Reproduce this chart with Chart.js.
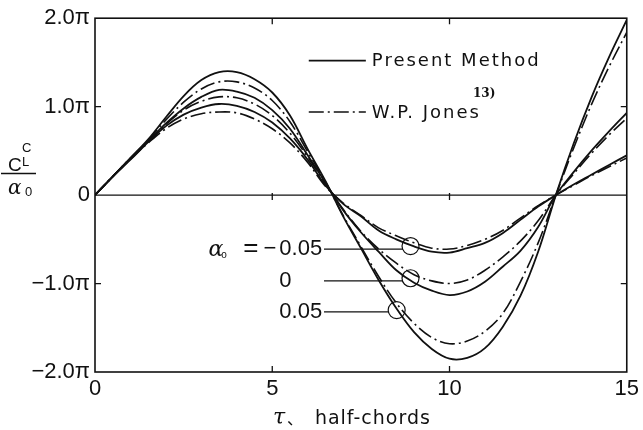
<!DOCTYPE html>
<html><head><meta charset="utf-8">
<script src="https://cdn.jsdelivr.net/npm/chart.js@4/dist/chart.umd.min.js"></script>
<style>html,body{margin:0;padding:0;background:#fff}#wrap{width:643px;height:430px}</style>
</head><body><div id="wrap"><canvas id="c" width="643" height="430"></canvas></div>
<script>
// τ in half-chords, values in units of π
const tau = [0,0.5,1,1.5,2,2.5,3,3.5,4,4.5,5,5.5,6,6.5,7,7.5,8,8.5,9,9.5,10,10.5,11,11.5,12,12.5,13,13.5,14,14.5,15];
// Present Method (solid)
const presentA005 = [0,0.21,0.42,0.63,0.88,1.12,1.30,1.39,1.39,1.31,1.16,0.90,0.52,0.16,-0.24,-0.60,-0.96,-1.28,-1.55,-1.74,-1.85,-1.84,-1.73,-1.49,-1.14,-0.64,0.00,0.58,1.10,1.56,1.98];
const presentA0   = [0,0.21,0.41,0.61,0.81,0.98,1.11,1.19,1.17,1.10,0.96,0.75,0.45,0.14,-0.17,-0.42,-0.64,-0.85,-0.99,-1.08,-1.13,-1.09,-0.98,-0.81,-0.63,-0.36,0.00,0.26,0.50,0.72,0.93];
const presentAm005= [0,0.21,0.40,0.60,0.78,0.91,0.99,1.03,1.01,0.94,0.82,0.64,0.40,0.11,-0.10,-0.24,-0.40,-0.50,-0.58,-0.64,-0.65,-0.60,-0.54,-0.43,-0.28,-0.13,0.00,0.12,0.23,0.34,0.45];
// W.P. Jones (dash-dot)
const jonesA005 = [0,0.21,0.42,0.62,0.85,1.05,1.20,1.28,1.28,1.21,1.07,0.83,0.49,0.15,-0.23,-0.58,-0.92,-1.22,-1.45,-1.61,-1.68,-1.65,-1.54,-1.34,-0.98,-0.54,0.00,0.53,1.02,1.45,1.84];
const jonesA0   = [0,0.21,0.41,0.60,0.80,0.96,1.06,1.11,1.10,1.03,0.90,0.70,0.43,0.13,-0.16,-0.41,-0.61,-0.77,-0.90,-0.97,-1.00,-0.96,-0.85,-0.70,-0.52,-0.29,0.00,0.24,0.47,0.68,0.87];
const jonesAm005= [0,0.21,0.41,0.59,0.75,0.86,0.92,0.94,0.93,0.86,0.75,0.59,0.37,0.10,-0.09,-0.23,-0.37,-0.46,-0.54,-0.60,-0.61,-0.57,-0.50,-0.40,-0.26,-0.12,0.00,0.11,0.22,0.32,0.42];

const xTicks = [0,5,10,15];
const yTicks = [-2,-1,0,1,2];
const legendLabels = ['Present Method','W.P. Jones'];
// α0 annotations: label, circled point (τ, value), leader level
const annLabels = ['0.05','0','0.05'];
const annSign = ['−','',''];
const annTau = [8.90,8.90,8.51];
const annVal = [-0.576,-0.94,-1.30];
const annLineVal = [-0.61,-0.97,-1.32];

const toPts = arr => tau.map((t,i)=>({x:t,y:arr[i]}));
const INK = '#111';
const DD = [15,4,2,4];

function ds(arr, dashed){
  return {data:toPts(arr), borderColor:INK, borderWidth:dashed?1.6:1.8, borderDash:dashed?DD:[],
    pointRadius:0, fill:false, tension:0.35};
}

const deco = {
  id:'deco',
  beforeDatasetsDraw(chart){
    const {ctx, chartArea:a, scales:{x,y}} = chart;
    ctx.save();
    ctx.strokeStyle = INK; ctx.lineWidth = 1.3;
    const y0 = y.getPixelForValue(0);
    ctx.beginPath(); ctx.moveTo(a.left,y0); ctx.lineTo(a.right,y0); ctx.stroke();
    ctx.restore();
  },
  afterDraw(chart){
    const {ctx, chartArea:a, scales:{x,y}} = chart;
    ctx.save();
    ctx.strokeStyle = INK; ctx.fillStyle = INK;
    // box
    ctx.lineWidth = 1.6;
    ctx.strokeRect(a.left, a.top, a.right-a.left, a.bottom-a.top);
    // inward ticks
    ctx.lineWidth = 1.3;
    const L = 6;
    ctx.beginPath();
    xTicks.slice(1,-1).forEach(v=>{
      const px = x.getPixelForValue(v);
      ctx.moveTo(px,a.bottom); ctx.lineTo(px,a.bottom-L);
      ctx.moveTo(px,a.top); ctx.lineTo(px,a.top+L);
      const y0 = y.getPixelForValue(0);
      ctx.moveTo(px,y0-2); ctx.lineTo(px,y0+5);
    });
    yTicks.slice(1,-1).forEach(v=>{
      if(v===0) return;
      const py = y.getPixelForValue(v);
      ctx.moveTo(a.left,py); ctx.lineTo(a.left+L,py);
      ctx.moveTo(a.right,py); ctx.lineTo(a.right-L,py);
    });
    ctx.stroke();

    // legend
    const lx0 = x.getPixelForValue(6.03), lx1 = x.getPixelForValue(7.64);
    const ly = [y.getPixelForValue(1.52), y.getPixelForValue(0.94)];
    ctx.lineWidth = 1.6;
    [[],DD].forEach((d,i)=>{
      ctx.setLineDash(d);
      ctx.beginPath(); ctx.moveTo(lx0,ly[i]); ctx.lineTo(lx1,ly[i]); ctx.stroke();
    });
    ctx.setLineDash([]);
    ctx.font = '18px "DejaVu Sans"';
    ctx.letterSpacing = '2px';
    ctx.textBaseline = 'middle'; ctx.textAlign = 'left';
    legendLabels.forEach((t,i)=> ctx.fillText(t, lx1+6, ly[i]+1));
    const jw = ctx.measureText(legendLabels[1]).width;
    ctx.letterSpacing = '0px';
    ctx.font = 'bold 12px "DejaVu Serif"';
    ctx.fillText('13)', lx1+6+jw-8, ly[1]-18);

    // annotations
    const numX = x.getPixelForValue(5.2), leadX = x.getPixelForValue(6.46);
    ctx.font = '22px "Liberation Sans"';
    ctx.lineWidth = 1.2;
    annLabels.forEach((t,i)=>{
      const cx = x.getPixelForValue(annTau[i]), cy = y.getPixelForValue(annVal[i]);
      const ly2 = y.getPixelForValue(annLineVal[i]);
      const r = 8.5;
      ctx.textAlign='left'; ctx.textBaseline='middle';
      ctx.fillText(t, numX, ly2);
      if(annSign[i]){
        ctx.textAlign='right';
        ctx.fillText(annSign[i], numX-3, ly2);
        ctx.font = '26px "Liberation Sans"';
        ctx.fillText('=', numX-21, ly2);
        ctx.font = 'italic 22px "DejaVu Serif"';
        ctx.fillText('α', numX-56, ly2+1);
        ctx.font = '10px "Liberation Sans"';
        ctx.textAlign='left';
        ctx.fillText('o', numX-58, ly2+6);
        ctx.font = '22px "Liberation Sans"';
      }
      ctx.beginPath(); ctx.moveTo(leadX, ly2); ctx.lineTo(cx - r*0.9, ly2); ctx.stroke();
      ctx.beginPath(); ctx.arc(cx, cy, r, 0, Math.PI*2); ctx.stroke();
    });

    // y-axis title (fraction)
    ctx.textAlign='left'; ctx.textBaseline='alphabetic';
    ctx.font = '19px "Liberation Sans"';
    ctx.fillText('C', 8, 171);
    ctx.font = '13px "Liberation Sans"';
    ctx.fillText('C', 22, 152);
    ctx.fillText('L', 22, 166);
    ctx.lineWidth = 1.3;
    ctx.beginPath(); ctx.moveTo(1,173.5); ctx.lineTo(36,173.5); ctx.stroke();
    ctx.font = 'italic 20px "DejaVu Serif"';
    ctx.fillText('α', 8, 194);
    ctx.font = '13px "Liberation Sans"';
    ctx.fillText('0', 25, 196);

    // x-axis title
    const cxT = (a.left+a.right)/2;
    ctx.font = 'italic 22px "DejaVu Serif"';
    ctx.fillText('τ', cxT-88, 424);
    ctx.font = '16px "Noto Sans CJK JP"';
    ctx.fillText('、', cxT-74, 424);
    ctx.font = '19px "DejaVu Sans"';
    ctx.letterSpacing = '1px';
    ctx.fillText('half-chords', cxT-46, 424);
    ctx.restore();
  }
};

new Chart(document.getElementById('c'), {
  type:'line',
  data:{datasets:[
    ds(presentA005,false), ds(jonesA005,true),
    ds(presentA0,false), ds(jonesA0,true),
    ds(presentAm005,false), ds(jonesAm005,true)
  ]},
  options:{
    responsive:false, animation:false, devicePixelRatio:1,
    layout:{padding:{top:18,right:14,left:0,bottom:0}},
    plugins:{legend:{display:false}, tooltip:{enabled:false}},
    scales:{
      x:{type:'linear', min:0, max:15,
        afterBuildTicks: s=>{ s.ticks = xTicks.map(v=>({value:v})); },
        afterFit: s=>{ s.height = 58; },
        grid:{display:false, drawTicks:false}, border:{display:false},
        ticks:{color:INK, padding:4, font:{family:'Liberation Sans', size:22}, maxRotation:0}},
      y:{type:'linear', min:-2, max:2,
        afterBuildTicks: s=>{ s.ticks = yTicks.map(v=>({value:v})); },
        afterFit: s=>{ s.width = 95; },
        grid:{display:false, drawTicks:false}, border:{display:false},
        ticks:{color:INK, padding:5, font:{family:'Liberation Sans', size:22},
          callback:v=> v===0 ? '0' : (v<0?'−':'') + Math.abs(v).toFixed(1) + 'π'}}
    }
  },
  plugins:[deco]
});
</script></body></html>
